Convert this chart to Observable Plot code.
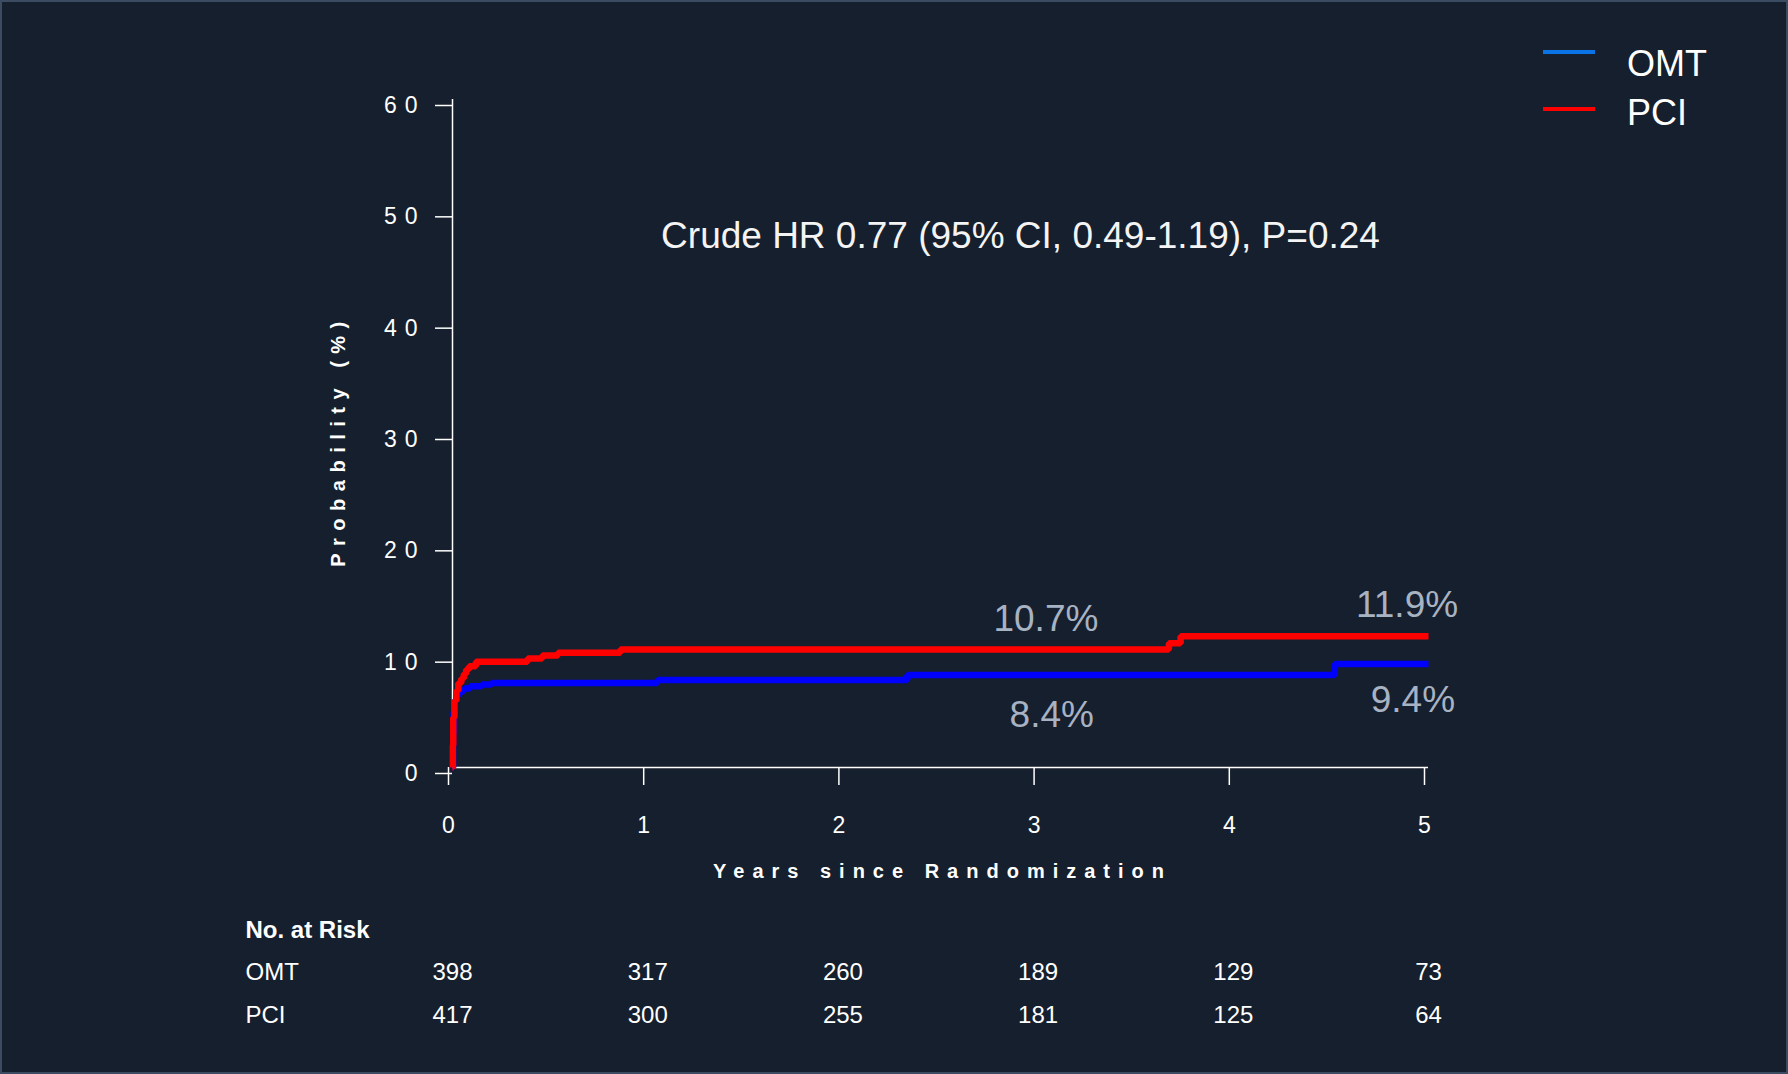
<!DOCTYPE html>
<html>
<head>
<meta charset="utf-8">
<script src="https://cdn.jsdelivr.net/npm/d3@7"></script>
<script src="https://cdn.jsdelivr.net/npm/@observablehq/plot@0.6"></script>
<style>
  html, body { margin: 0; padding: 0; background: #161f2d; }
  #wrap { position: relative; width: 1788px; height: 1074px; background: #161f2d; overflow: hidden; font-family: "Liberation Sans", Arial, sans-serif; }
  #wrap::after { content: ""; position: absolute; inset: 0; box-shadow: inset 0 0 0 2px #3a4b62; pointer-events: none; }
  #legend { position: absolute; left: 0; top: 0; z-index: 5; }
  .leg-line { position: absolute; left: 1543px; width: 52px; height: 4px; }
  .leg-text { position: absolute; left: 1627px; font-size: 36px; color: #ffffff; line-height: 1; }
  [aria-label="y-axis tick label"] text { letter-spacing: 8px; }
</style>
</head>
<body>
<div id="wrap">
  <div id="legend"></div>
</div>
<script>
// ---- Data ----
const series = ["OMT", "PCI"];
const omtYears = [0, 0.003, 0.006, 0.01, 0.02, 0.04, 0.06, 0.09, 0.15, 0.2, 1.05, 2.33, 4.52, 5];
const omtProb  = [0, 3.0, 5.0, 6.0, 6.6, 6.9, 7.1, 7.3, 7.45, 7.6, 7.85, 8.3, 9.3, 9.3];
const pciYears = [0, 0.002, 0.004, 0.01, 0.02, 0.03, 0.045, 0.058, 0.07, 0.085, 0.12, 0.385, 0.46, 0.54, 0.86, 3.67, 3.73, 5];
const pciProb  = [0, 2.0, 4.5, 6.0, 6.9, 7.6, 8.0, 8.4, 8.8, 9.1, 9.5, 9.8, 10.05, 10.3, 10.6, 11.15, 11.8, 11.8];
const xTicks = [0, 1, 2, 3, 4, 5];
const yTicks = [0, 10, 20, 30, 40, 50, 60];
const riskOMT = [398, 317, 260, 189, 129, 73];
const riskPCI = [417, 300, 255, 181, 125, 64];
const labelSeries = ["PCI", "OMT", "PCI", "OMT"];
const labelYears  = [3.04, 3.07, 4.89, 4.92];
const labelValues = [10.7, 8.4, 11.9, 9.4];
const titleText = "Crude HR 0.77 (95% CI, 0.49-1.19), P=0.24";
const yTitle = "Probability (%)";
const xTitle = "Years since Randomization";
const colors = { OMT: "#0000ff", PCI: "#ff0000" };
const legendColors = { OMT: "#0a74e6", PCI: "#ff0000" };

// ---- Build tables ----
const omtData = omtYears.map((t, i) => ({ t, p: omtProb[i], s: "OMT" }));
const pciData = pciYears.map((t, i) => ({ t, p: pciProb[i], s: "PCI" }));
const labels = labelValues.map((v, i) => ({ s: labelSeries[i], t: labelYears[i], v }));
const riskTable = { OMT: riskOMT, PCI: riskPCI };

const font = "Liberation Sans, Arial, sans-serif";
const white = "#ffffff";
const annot = "#a7b2c3";
const labelDy = [-29, 41, -30, 37];
const rowDy = { OMT: 212, PCI: 255 };

const chart = Plot.plot({
  width: 1788,
  height: 1074,
  marginLeft: 452,
  marginRight: 360,
  marginTop: 99,
  marginBottom: 307,
  style: { background: "transparent", color: white, fontFamily: font, overflow: "visible" },
  x: { domain: [0, 5], axis: null },
  y: { domain: [0, 60], axis: null },
  marks: [
    // axes
    Plot.axisY({ ticks: yTicks, label: null, tickSize: 17, tickPadding: 10, fontSize: 23, dy: 6, stroke: white, strokeWidth: 1.5, tickFormat: d => String(d) }),
    Plot.axisX({ ticks: xTicks, label: null, tickSize: 18, tickPadding: 31, fontSize: 23, dx: -4, stroke: white, strokeWidth: 1.5, tickFormat: d => String(d) }),
    Plot.ruleX([0], { y1: 0, y2: 60, stroke: white, strokeWidth: 1.5 }),
    Plot.ruleY([0], { x1: 0, x2: 5, stroke: white, strokeWidth: 1.5 }),
    // axis titles
    Plot.text([yTitle], { frameAnchor: "left", textAnchor: "middle", dx: -114, dy: 7, rotate: -90, fontSize: 20, fontWeight: "bold", fill: white }),
    Plot.text([xTitle], { frameAnchor: "bottom", dx: 2, dy: 110, fontSize: 20, fontWeight: "bold", fill: white }),
    // title
    Plot.text([titleText], { frameAnchor: "top", dx: 80, dy: 122, fontSize: 37, fill: "#f4f4f4" }),
    // curves
    Plot.line(omtData, { x: "t", y: "p", curve: "step-after", stroke: colors.OMT, strokeWidth: 6.5, strokeLinejoin: "miter", strokeLinecap: "butt" }),
    Plot.line(pciData, { x: "t", y: "p", curve: "step-after", stroke: colors.PCI, strokeWidth: 6.5, strokeLinejoin: "miter", strokeLinecap: "butt" }),
    // value labels
    ...labels.map((d, i) => Plot.text([d], { x: "t", y: "v", text: d => d.v.toFixed(1) + "%", dy: labelDy[i], fontSize: 37, fill: annot })),
    // number at risk
    Plot.text(["No. at Risk"], { frameAnchor: "bottom-left", dx: -207, dy: 170, textAnchor: "start", fontSize: 24, fontWeight: "bold", fill: white }),
    ...series.map(s => Plot.text([s], { frameAnchor: "bottom-left", dx: -207, dy: rowDy[s], textAnchor: "start", fontSize: 24, fill: white })),
    ...series.map(s => Plot.text(riskTable[s], { x: (d, i) => xTicks[i], frameAnchor: "bottom", dy: rowDy[s], text: d => String(d), fontSize: 24, fill: white }))
  ]
});
document.getElementById("wrap").appendChild(chart);

// letter-spaced axis titles
chart.querySelectorAll("text").forEach(n => {
  if (n.textContent === yTitle) n.style.letterSpacing = "7.5px";
  if (n.textContent === xTitle) n.style.letterSpacing = "8px";
});

// legend
const legend = document.getElementById("legend");
const legendY = { OMT: [52, 64], PCI: [109, 113] };
series.forEach(s => {
  const ln = document.createElement("div");
  ln.className = "leg-line";
  ln.style.top = (legendY[s][0] - 2) + "px";
  ln.style.background = legendColors[s];
  legend.appendChild(ln);
  const tx = document.createElement("div");
  tx.className = "leg-text";
  tx.textContent = s;
  tx.style.top = (legendY[s][1] - 18) + "px";
  legend.appendChild(tx);
});
</script>
</body>
</html>
